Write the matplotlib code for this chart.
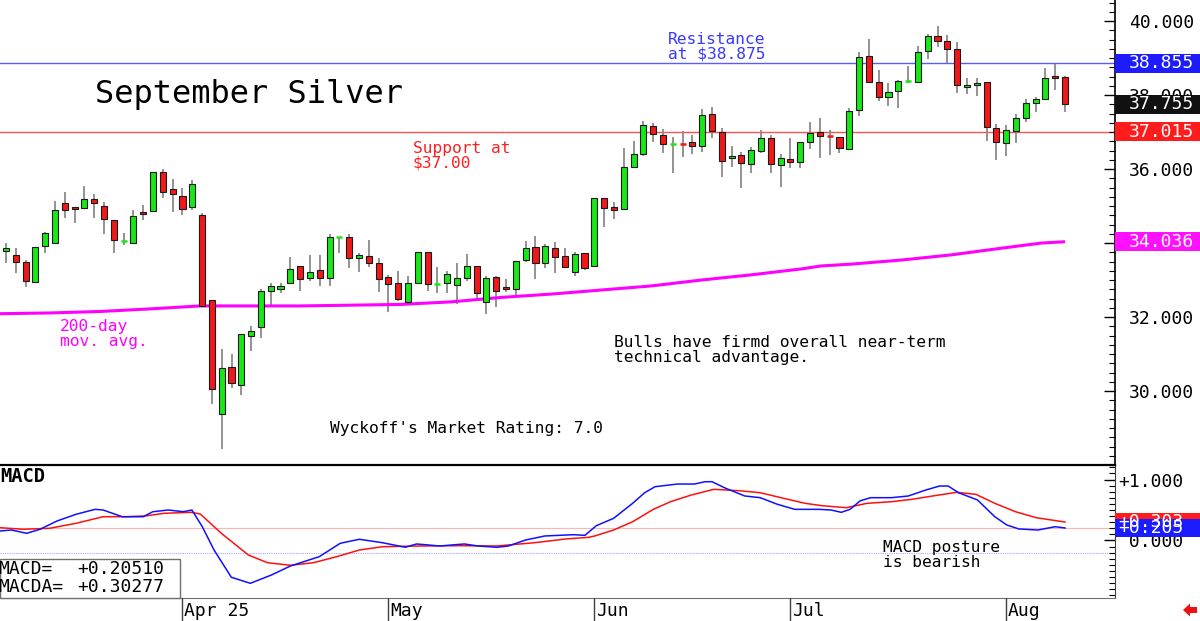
import matplotlib
matplotlib.use('Agg')
import matplotlib.pyplot as plt
from matplotlib.patches import Rectangle, Polygon
from matplotlib.ticker import MultipleLocator, FixedLocator, FixedFormatter
import matplotlib.transforms as mtransforms
import numpy as np

plt.rcParams['font.family'] = ['DejaVu Sans Mono']

# ---------------- data ----------------
opens = [33.78, 33.68, 33.48, 32.95, 33.93, 33.99, 35.07, 34.98, 34.95, 35.19,
         35.00, 34.62, 34.05, 34.01, 34.83, 34.86, 35.91, 35.46, 35.27, 34.98,
         34.76, 32.46, 29.38, 30.64, 30.16, 31.49, 31.74, 32.71, 32.77, 32.91,
         33.39, 33.05, 33.27, 33.05, 34.14, 34.17, 33.59, 33.65, 33.45, 33.07,
         32.91, 32.41, 32.93, 33.75, 32.88, 32.91, 32.86, 33.06, 33.39, 32.41,
         33.09, 32.82, 32.75, 33.54, 33.90, 33.45, 33.87, 33.66, 33.23, 33.72,
         33.39, 35.21, 34.97, 34.92, 36.06, 36.40, 37.17, 36.92, 36.66, 36.69,
         36.73, 36.63, 37.48, 37.01, 36.31, 36.38, 36.15, 36.49, 36.83, 36.11,
         36.27, 36.20, 36.74, 37.00, 36.90, 36.87, 36.54, 37.59, 39.05, 38.35,
         37.94, 38.11, 38.37, 38.36, 39.20, 39.59, 39.47, 39.24, 38.23, 38.27,
         38.34, 37.12, 36.71, 37.03, 37.39, 37.79, 37.89, 38.51, 38.48]
highs = [34.00, 33.86, 33.54, 33.90, 34.31, 35.14, 35.37, 34.98, 35.54, 35.32,
         35.12, 34.62, 34.26, 34.89, 35.03, 35.91, 35.99, 35.73, 35.49, 35.70,
         34.80, 32.46, 31.13, 31.00, 31.55, 31.76, 32.75, 32.93, 32.93, 33.63,
         33.39, 33.67, 33.69, 34.24, 34.17, 34.24, 33.74, 34.08, 33.59, 33.14,
         33.24, 33.12, 33.75, 33.75, 33.34, 33.24, 33.47, 33.70, 33.39, 33.12,
         33.12, 33.03, 33.52, 34.06, 34.20, 33.97, 34.02, 33.86, 33.76, 33.72,
         35.21, 35.21, 35.10, 36.56, 36.76, 37.31, 37.24, 37.07, 36.87, 37.04,
         36.92, 37.61, 37.68, 37.10, 36.62, 36.47, 36.60, 37.05, 36.92, 36.42,
         36.83, 36.74, 37.28, 37.39, 37.05, 36.87, 37.64, 39.17, 39.51, 38.68,
         38.33, 38.41, 38.79, 39.32, 39.65, 39.86, 39.62, 39.44, 38.45, 38.47,
         38.34, 37.22, 37.19, 37.48, 37.89, 37.95, 38.72, 38.83, 38.51]
lows = [33.46, 33.19, 32.82, 32.94, 33.74, 33.99, 34.68, 34.53, 34.95, 34.68,
        34.24, 33.72, 33.95, 34.01, 34.62, 34.86, 35.22, 34.83, 34.76, 34.89,
        32.30, 29.64, 28.43, 30.07, 29.88, 31.08, 31.42, 32.28, 32.66, 32.91,
        32.71, 32.98, 32.84, 32.84, 33.74, 33.32, 33.22, 33.36, 32.68, 32.14,
        32.43, 32.41, 32.93, 32.70, 32.64, 32.66, 32.34, 32.97, 32.52, 32.07,
        32.26, 32.68, 32.55, 33.49, 33.03, 33.32, 33.18, 33.33, 33.11, 33.27,
        33.39, 34.44, 34.65, 34.92, 36.04, 36.35, 36.72, 36.44, 35.88, 36.32,
        36.42, 36.45, 36.83, 35.79, 36.06, 35.48, 35.90, 36.44, 35.90, 35.52,
        36.02, 36.02, 36.53, 36.29, 36.38, 36.44, 36.54, 37.44, 38.32, 37.84,
        37.70, 37.64, 38.33, 38.32, 38.97, 39.29, 38.86, 38.05, 38.03, 37.97,
        36.76, 36.24, 36.35, 36.71, 37.28, 37.55, 37.89, 38.14, 37.55]
closes = [33.86, 33.49, 32.98, 33.90, 34.26, 34.89, 34.89, 34.93, 35.18, 35.09,
          34.65, 34.08, 34.07, 34.74, 34.78, 35.91, 35.39, 35.32, 34.93, 35.59,
          32.30, 30.06, 30.61, 30.22, 31.55, 31.63, 32.70, 32.84, 32.85, 33.30,
          33.02, 33.21, 33.05, 34.15, 34.16, 33.59, 33.68, 33.47, 33.02, 32.89,
          32.49, 32.93, 33.75, 32.88, 32.90, 33.16, 33.06, 33.38, 32.64, 33.06,
          32.71, 32.77, 33.52, 33.87, 33.45, 33.93, 33.63, 33.36, 33.70, 33.33,
          35.21, 34.95, 34.89, 36.06, 36.42, 37.19, 36.94, 36.67, 36.68, 36.66,
          36.63, 37.46, 37.04, 36.22, 36.35, 36.17, 36.51, 36.83, 36.13, 36.29,
          36.20, 36.74, 36.98, 36.89, 36.88, 36.58, 37.58, 39.02, 38.36, 37.94,
          38.07, 38.38, 38.38, 39.17, 39.59, 39.47, 39.24, 38.27, 38.27, 38.33,
          37.13, 36.74, 37.05, 37.39, 37.78, 37.89, 38.47, 38.47, 37.755]

ma200_idx = [-0.61, 4.49, 9.6, 14.7, 19.8, 30.0, 40.2, 45.4, 50.5, 55.6, 60.7,
             65.8, 70.9, 76.0, 81.1, 83.1, 86.2, 91.3, 96.4, 101.5, 105.6, 108.0]
ma200_vals = [32.09, 32.11, 32.15, 32.22, 32.30, 32.30, 32.34, 32.41, 32.53, 32.62,
              32.73, 32.84, 33.00, 33.14, 33.30, 33.38, 33.43, 33.54, 33.68, 33.86,
              34.00, 34.036]

macd_idx = [-0.61, 0.56, 2.11, 3.47, 5.21, 7.15, 9.09, 9.91, 11.85, 13.99, 14.98,
            16.55, 18.08, 18.96, 20.02, 21.22, 22.98, 24.92, 27.07, 29.01, 31.94,
            34.09, 36.04, 38.38, 40.72, 41.88, 44.23, 46.75, 48.11, 50.05, 51.24,
            52.99, 54.95, 57.87, 59.04, 60.21, 61.97, 63.91, 65.14, 66.19, 68.48,
            70.23, 71.30, 72.0, 73.40, 75.34, 76.92, 78.68, 80.44, 82.90, 84.14,
            85.19, 86.07, 87.13, 88.18, 90.30, 92.03, 93.81, 95.20, 96.09, 97.14,
            99.08, 100.84, 102.07, 103.30, 105.24, 107.0, 108.0]
macd_vals = [0.156, 0.172, 0.118, 0.184, 0.320, 0.430, 0.511, 0.500, 0.390, 0.390,
             0.472, 0.500, 0.472, 0.500, 0.226, -0.156, -0.603, -0.702, -0.566,
             -0.418, -0.266, -0.046, 0.020, -0.036, -0.111, -0.057, -0.090, -0.057,
             -0.090, -0.111, -0.090, 0.008, 0.074, 0.095, 0.085, 0.243, 0.364,
             0.610, 0.784, 0.882, 0.926, 0.926, 0.964, 0.964, 0.856, 0.730, 0.702,
             0.593, 0.511, 0.511, 0.500, 0.462, 0.511, 0.652, 0.702, 0.702, 0.730,
             0.828, 0.893, 0.893, 0.784, 0.664, 0.390, 0.254, 0.189, 0.172, 0.226,
             0.205]

macda_idx = [-0.61, 1.74, 4.45, 7.15, 9.91, 12.26, 14.20, 16.14, 18.90, 19.82,
             21.96, 24.72, 26.66, 29.01, 31.36, 33.71, 36.04, 38.38, 42.29, 46.17,
             50.05, 53.93, 57.10, 59.43, 60.04, 61.97, 63.91, 66.02, 67.77, 69.89,
             72.18, 74.81, 76.92, 79.03, 81.49, 83.25, 85.70, 87.83, 90.30, 92.40,
             94.50, 96.96, 98.91, 100.84, 102.95, 105.06, 108.0]
macda_vals = [0.210, 0.184, 0.200, 0.282, 0.390, 0.390, 0.402, 0.446, 0.462, 0.434,
              0.118, -0.238, -0.364, -0.407, -0.364, -0.266, -0.156, -0.102, -0.090,
              -0.085, -0.090, -0.036, 0.025, 0.052, 0.074, 0.172, 0.308, 0.511,
              0.636, 0.746, 0.839, 0.816, 0.784, 0.702, 0.610, 0.570, 0.538, 0.610,
              0.636, 0.675, 0.730, 0.790, 0.757, 0.610, 0.472, 0.374, 0.303]

resistance = 38.855
support = 37.015
last_close = 37.755
ma200_last = 34.036
macd_last = 0.20510
macda_last = 0.30277

month_labels = ['Apr 25', 'May', 'Jun', 'Jul', 'Aug']
month_start_idx = [18, 39, 60, 80, 102]
price_ticks = [30, 32, 34, 36, 38, 40]
price_tick_labels = ['30.000', '32.000', '', '36.000', '38.000', '40.000']
macd_ticks = [0, 1]
macd_tick_labels = [' 0.000', '+1.000']

# ---------------- layout ----------------
W, H = 1200, 621
fig = plt.figure(figsize=(12, 6.21), dpi=100)
fig.patch.set_facecolor('white')


def fx(px):
    return px / W


def fy(py):
    return 1 - py / H


XR = 1115
ax = fig.add_axes([0, fy(465), fx(XR), 465 / H])
ax2 = fig.add_axes([0, fy(598), fx(XR), (598 - 465) / H])
ax3 = fig.add_axes([0, 0, fx(XR), fy(598)])

xlim = (-0.61, 113.1)
for a in (ax, ax2, ax3):
    a.set_xlim(*xlim)
    a.set_facecolor('none')

GREEN = '#18e818'
RED = '#f01818'
MAG = '#ff00ff'

# ---------------- price pane ----------------
n = len(opens)
bw = 0.62
for i in range(n):
    o, h, l, c = opens[i], highs[i], lows[i], closes[i]
    ax.vlines(i, l, h, color='#8a8a8a', lw=1.3, zorder=2)
    col = GREEN if c >= o else RED
    if abs(c - o) < 0.035:
        ax.hlines((o + c) / 2, i - bw / 2, i + bw / 2, color=col, lw=1.8, zorder=3)
    else:
        ax.add_patch(Rectangle((i - bw / 2, min(o, c)), bw, abs(c - o),
                               facecolor=col, edgecolor='#1a1a1a', lw=0.8, zorder=3))

ax.plot(ma200_idx, ma200_vals, color=MAG, lw=2.2, zorder=2.5, solid_capstyle='butt')
ax.axhline(resistance, color='#5a5aff', lw=1.0, zorder=1)
ax.axhline(support, color='#ff5050', lw=1.0, zorder=1)

ax.set_ylim(28.0, 40.57)
ax.set_xticks([])
ax.yaxis.tick_right()
ax.yaxis.set_major_locator(FixedLocator(price_ticks))
ax.yaxis.set_major_formatter(FixedFormatter(price_tick_labels))
ax.yaxis.set_minor_locator(MultipleLocator(0.25))
ax.tick_params(axis='y', which='major', direction='in', length=8, width=1,
               pad=10, labelsize=13, colors='black')
ax.tick_params(axis='y', which='minor', direction='in', length=4, width=0.8)
for s in ('left', 'top', 'bottom'):
    ax.spines[s].set_visible(False)
ax.spines['right'].set_linewidth(1.2)

# value boxes on the price scale
btr = mtransforms.blended_transform_factory(ax.transAxes, ax.transData)
box_w = W / XR - 1.0
box_h = 0.51


def price_box(val, face, label, text_color='white'):
    ax.add_patch(Rectangle((1.0, val - box_h / 2), box_w, box_h, transform=btr,
                           facecolor=face, edgecolor='none', clip_on=False, zorder=5))
    ax.text(1.0 + 14 / XR, val, label, transform=btr, color=text_color, fontsize=13,
            ha='left', va='center', clip_on=False, zorder=6)


price_box(resistance, '#1c1cff', '%.3f' % resistance)
price_box(last_close, '#111111', '%.3f' % last_close)
price_box(support, '#ff1c1c', '%.3f' % support)
price_box(ma200_last, '#ff10ff', '%.3f' % ma200_last)

# ---------------- MACD pane ----------------
ax2.plot(macda_idx, macda_vals, color='#ff1010', lw=1.1, zorder=3)
ax2.plot(macd_idx, macd_vals, color='#1010ff', lw=1.1, zorder=4)
ax2.axhline(macd_last, color='#ffb4b4', lw=0.8, zorder=1)
ax2.axhline(-macd_last, color='#a8a8ff', lw=0.8, ls=(0, (1, 1)), zorder=1)

ax2.set_ylim(-0.943, 1.238)
ax2.set_xticks([])
ax2.yaxis.tick_right()
ax2.yaxis.set_major_locator(FixedLocator(macd_ticks))
ax2.yaxis.set_major_formatter(FixedFormatter(macd_tick_labels))
ax2.yaxis.set_minor_locator(MultipleLocator(0.1))
ax2.tick_params(axis='y', which='major', direction='in', length=8, width=1,
                pad=2, labelsize=13)
ax2.tick_params(axis='y', which='minor', direction='in', length=4, width=0.8)
ax2.spines['left'].set_visible(False)
ax2.spines['top'].set_linewidth(1.6)
ax2.spines['top'].set_color('black')
ax2.spines['bottom'].set_color('#707070')
ax2.spines['right'].set_color('#404040')

btr2 = mtransforms.blended_transform_factory(ax2.transAxes, ax2.transData)
mbox_h = 0.31
for val, face in ((macda_last, '#ff1c1c'), (macd_last, '#1c1cff')):
    ax2.add_patch(Rectangle((1.0, val - mbox_h / 2), box_w, mbox_h, transform=btr2,
                            facecolor=face, edgecolor='none', clip_on=False, zorder=5))
    ax2.text(1.0 + 3 / XR, val, '%+.3f' % val, transform=btr2, color='white',
             fontsize=13, ha='left', va='center', clip_on=False, zorder=6)

# legend box of MACD values
ax2.add_patch(Rectangle((0, 0), 180 / XR, (598 - 559) / (598 - 465),
                        transform=ax2.transAxes, facecolor='white',
                        edgecolor='#707070', lw=1.0, zorder=6, clip_on=False))
fig.text(fx(-2), fy(569), 'MACD=', fontsize=13, ha='left', va='center', zorder=7)
fig.text(fx(77), fy(569), '%+.5f' % macd_last, fontsize=13, ha='left', va='center', zorder=7)
fig.text(fx(-2), fy(587), 'MACDA=', fontsize=13, ha='left', va='center', zorder=7)
fig.text(fx(77), fy(587), '%+.5f' % macda_last, fontsize=13, ha='left', va='center', zorder=7)

# ---------------- month axis ----------------
ax3.set_ylim(0, 1)
ax3.axis('off')
for idx, lab in zip(month_start_idx, month_labels):
    ax3.axvline(idx, color='#404040', lw=1.0)
    ax3.text(idx + 0.2, 0.45, lab, fontsize=13, ha='left', va='center')

# ---------------- annotations ----------------
fig.text(fx(95), fy(95), 'September Silver', fontsize=23, ha='left', va='center')
fig.text(fx(668), fy(46.5), 'Resistance\nat $38.875', fontsize=11.7, color='#3a3aff',
         ha='left', va='center', linespacing=1.0)
fig.text(fx(413), fy(156), 'Support at\n$37.00', fontsize=11.7, color='#ff2020',
         ha='left', va='center', linespacing=1.0)
fig.text(fx(60), fy(334), '200-day\nmov. avg.', fontsize=11.7, color=MAG,
         ha='left', va='center', linespacing=1.0)
fig.text(fx(614), fy(350), 'Bulls have firmd overall near-term\ntechnical advantage.',
         fontsize=11.7, color='black', ha='left', va='center', linespacing=1.0)
fig.text(fx(330), fy(428), "Wyckoff's Market Rating: 7.0", fontsize=11.7,
         color='black', ha='left', va='center')
fig.text(fx(0), fy(477), 'MACD', fontsize=13.5, fontweight='bold', ha='left', va='center')
fig.text(fx(883), fy(555), 'MACD posture\nis bearish', fontsize=11.7, color='black',
         ha='left', va='center', linespacing=1.0)

# small red arrow at bottom right
arrow_px = [(1183, 610), (1190, 603.5), (1190, 607), (1197, 607),
            (1197, 613), (1190, 613), (1190, 616.5)]
fig.patches.append(Polygon([(fx(a), fy(b)) for a, b in arrow_px], closed=True,
                           transform=fig.transFigure, facecolor='#ee1111',
                           edgecolor='none'))

fig.savefig('out.png', dpi=100, facecolor='white')
